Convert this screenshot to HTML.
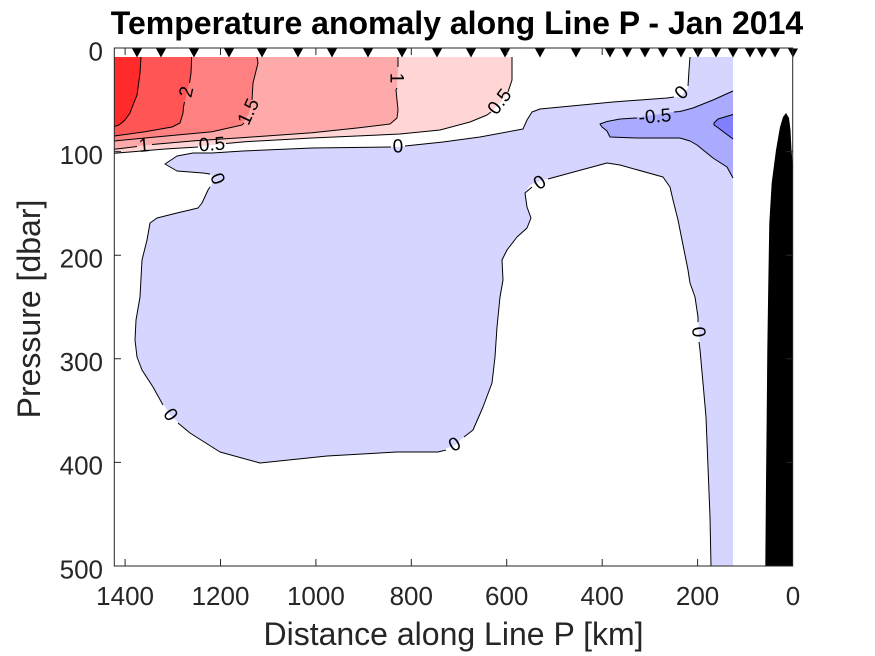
<!DOCTYPE html>
<html>
<head>
<meta charset="utf-8">
<style>
  html, body { margin:0; padding:0; background:#ffffff; }
  svg { display:block; }
  text { font-family: "Liberation Sans", Arial, sans-serif; }
</style>
</head>
<body>
<svg width="875" height="656" viewBox="0 0 875 656" xmlns="http://www.w3.org/2000/svg">
  <rect x="0" y="0" width="875" height="656" fill="#ffffff"/>

  <!-- Lavender (-0.5 .. 0) region -->
  <path fill="#d5d5ff" stroke="none" d="M690,57 L733,57 L733,566 L711,566 L710,517 L708,467 L706,417 L703,383 L700,350 L698,317 L695,297 L690,283 L688,270 L684,250 L678,220 L673,200 L670,187 L663,177 L620,165 L607,163 L570,173 L543,180 L530,185 L525,193 L527,207 L531,218 L527,228 L517,237 L507,250 L502,260 L503,280 L500,297 L497,327 L495,357 L492,383 L483,407 L473,430 L463,438 L455,445 L438,452 L397,452 L327,456 L260,463 L220,452 L190,433 L170,415 L153,387 L142,370 L137,357 L135,340 L136,320 L140,297 L142,260 L147,240 L150,223 L157,218 L177,213 L198,208 L202,203 L208,190 L213,182 L214,176 L203,173 L177,171 L165,164 L177,156 L193,153 L212,153 L243,151 L312,148 L398,147 L443,142 L480,137 L523,129 L527,120 L532,112 L540,109 L613,102 L667,98 L680,97 L688,88 L689,70 Z"/>

  <!-- -1 .. -0.5 region -->
  <path fill="#aaaaff" d="M600,124 L607,121.5 L620,119 L640,117 L673,112 L680,111.5 L693,108 L713,100 L733,91 L733,178 L727,167 L713,158 L697,145 L690,141 L680,138 L637,138 L610,137 L607,131 L602,127 Z"/>
  <!-- < -1 region -->
  <path fill="#8080ff" d="M714,123 L718,119 L723,117.5 L733,114.5 L733,139 L725,133 L717,127 L714,125 Z"/>

  <!-- Red regions -->
  <path fill="#ffd5d5" d="M114.3,57 L512,57 L512,80 L508,92 L500,103 L491,112 L487,115 L470,122 L440,130 L400,134 L312,138 L245,141.7 L212,145 L165,149 L114.3,153.3 Z"/>
  <path fill="#ffaaaa" d="M114.3,57 L398,57 L398,68 L397,86 L396,90 L398,110 L397,118 L390,124 L357,128 L312,132.7 L245,137.5 L195,140.7 L144,145.5 L114.3,149.3 Z"/>
  <path fill="#ff8080" d="M114.3,57 L257,57 L258,63 L253,83 L251.7,97 L249,113 L242,125 L212,131.7 L145,138 L114.3,141 Z"/>
  <path fill="#ff5555" d="M114.3,57 L191.7,57 L191,73 L187,92 L183.5,107 L183,113 L180,123 L172,127 L145,131.7 L114.3,136 Z"/>
  <path fill="#ff2b2b" d="M114.3,57 L141,57 L140,73 L137,95 L133,105 L130,113 L125,120 L119,125 L114.3,126.5 Z"/>

  <!-- Bathymetry -->
  <path fill="#000000" d="M786,113 L789,118 L790.5,130 L791.5,150 L792.7,165 L792.7,566 L765.3,566 L766,483 L766.7,417 L767.3,350 L768.3,283 L769.3,223 L771.7,183 L776,150 L780,127 L783,117 Z"/>

  <!-- Contour lines -->
  <g fill="none" stroke="#000000" stroke-width="1" stroke-linejoin="round">
    <!-- 0 contour -->
    <path d="M711,566 L710,517 L708,467 L706,417 L703,383 L700,350 L699,342"/>
    <path d="M698,322 L698,317 L695,297 L690,283 L688,270 L684,250 L678,220 L673,200 L670,187 L663,177 L620,165 L607,163 L570,173 L548,179"/>
    <path d="M532,187 L525,193 L527,207 L531,218 L527,228 L517,237 L507,250 L502,260 L503,280 L500,297 L497,327 L495,357 L492,383 L483,407 L473,430 L464,437"/>
    <path d="M446,450 L438,452 L397,452 L327,456 L260,463 L220,452 L190,433 L178,423"/>
    <path d="M163,405 L153,387 L142,370 L137,357 L135,340 L136,320 L140,297 L142,260 L147,240 L150,223 L157,218 L177,213 L198,208 L202,203 L208,190 L210,187"/>
    <path d="M210,174 L203,173 L177,171 L165,164 L177,156 L193,153 L212,153 L243,151 L312,148 L391,147"/>
    <path d="M405,146 L443,142 L480,137 L523,129 L527,120 L532,112 L540,109 L613,102 L667,98 L674,97"/>
    <path d="M688,86 L689,70 L690,57"/>
    <!-- -0.5 contour -->
    <path d="M733,91 L713,100 L693,108 L680,111.5 L674,112"/>
    <path d="M637,118 L620,119 L607,121.5 L600,124 L602,127 L607,131 L610,137 L637,138 L680,138 L690,141 L697,145 L713,158 L727,167 L733,178"/>
    <!-- -1 contour -->
    <path d="M733,114.5 L723,117.5 L718,119 L714,123 L714,125 L717,127 L725,133 L733,139"/>
    <!-- 0.5 contour -->
    <path d="M512,57 L512,80 L508,92"/>
    <path d="M491,112 L487,115 L470,122 L440,130 L400,134 L312,138 L245,141.7 L226,143.5"/>
    <path d="M198,147 L165,149 L114.3,153.3"/>
    <!-- 1.0 contour -->
    <path d="M398,57 L398,67"/>
    <path d="M397,88 L396,90 L398,110 L397,118 L390,124 L357,128 L312,132.7 L245,137.5 L195,140.7 L152,144.5"/>
    <path d="M137,146.5 L114.3,149.3"/>
    <!-- 1.5 contour -->
    <path d="M257,57 L258,63 L253,83 L252,100"/>
    <path d="M244,123 L242,125 L212,131.7 L145,138 L114.3,141"/>
    <!-- 2.0 contour -->
    <path d="M191.7,57 L191,73 L189.5,83"/>
    <path d="M184.5,102 L183.5,107 L183,113 L180,123 L172,127 L145,131.7 L114.3,136"/>
    <!-- 2.5 contour -->
    <path d="M141,57 L140,73 L137,95 L133,105 L130,113 L125,120 L119,125 L114.3,126.5"/>
  </g>

  <!-- Contour labels -->
  <g font-size="19" fill="#000000" text-anchor="middle" dominant-baseline="central">
    <text transform="translate(187,92) rotate(-77)">2</text>
    <text transform="translate(249,112) rotate(-65)">1.5</text>
    <text transform="translate(396,78) rotate(90)">1</text>
    <text transform="translate(500,102) rotate(-53)">0.5</text>
    <text transform="translate(144,146) rotate(-5)">1</text>
    <text transform="translate(212,145) rotate(-4)">0.5</text>
    <text transform="translate(398,147) rotate(-2)">0</text>
    <text transform="translate(217,179) rotate(68)">0</text>
    <text transform="translate(540,183) rotate(-34)">0</text>
    <text transform="translate(682,93) rotate(-45)">0</text>
    <text transform="translate(655,117) rotate(-5)">-0.5</text>
    <text transform="translate(698,332) rotate(85)">0</text>
    <text transform="translate(455,445) rotate(-30)">0</text>
    <text transform="translate(170,415) rotate(55)">0</text>
  </g>

  <!-- Station markers -->
  <g fill="#000000">
    <polygon points="132,48.5 142,48.5 137,57.5"/>
    <polygon points="156,48.5 166,48.5 161,57.5"/>
    <polygon points="189,48.5 199,48.5 194,57.5"/>
    <polygon points="224,48.5 234,48.5 229,57.5"/>
    <polygon points="257,48.5 267,48.5 262,57.5"/>
    <polygon points="293,48.5 303,48.5 298,57.5"/>
    <polygon points="327,48.5 337,48.5 332,57.5"/>
    <polygon points="363,48.5 373,48.5 368,57.5"/>
    <polygon points="397,48.5 407,48.5 402,57.5"/>
    <polygon points="432,48.5 442,48.5 437,57.5"/>
    <polygon points="466,48.5 476,48.5 471,57.5"/>
    <polygon points="500,48.5 510,48.5 505,57.5"/>
    <polygon points="535,48.5 545,48.5 540,57.5"/>
    <polygon points="571,48.5 581,48.5 576,57.5"/>
    <polygon points="605,48.5 615,48.5 610,57.5"/>
    <polygon points="622,48.5 632,48.5 627,57.5"/>
    <polygon points="640,48.5 650,48.5 645,57.5"/>
    <polygon points="658,48.5 668,48.5 663,57.5"/>
    <polygon points="676,48.5 686,48.5 681,57.5"/>
    <polygon points="693,48.5 703,48.5 698,57.5"/>
    <polygon points="711,48.5 721,48.5 716,57.5"/>
    <polygon points="728,48.5 738,48.5 733,57.5"/>
    <polygon points="745,48.5 755,48.5 750,57.5"/>
    <polygon points="757,48.5 767,48.5 762,57.5"/>
    <polygon points="770,48.5 780,48.5 775,57.5"/>
    <polygon points="788,48.5 798,48.5 793,57.5"/>
  </g>

  <!-- Axes box and ticks -->
  <g stroke="#262626" stroke-width="1" fill="none">
    <rect x="114.3" y="48" width="678.4" height="518"/>
    <!-- x ticks bottom & top -->
    <path d="M125.1,566 V559 M220.5,566 V559 M315.9,566 V559 M411.3,566 V559 M506.7,566 V559 M602.2,566 V559 M697.6,566 V559"/>
    <path d="M125.1,48 V55 M220.5,48 V55 M315.9,48 V55 M411.3,48 V55 M506.7,48 V55 M602.2,48 V55 M697.6,48 V55"/>
    <!-- y ticks left & right -->
    <path d="M114.3,151.6 H121 M114.3,255.2 H121 M114.3,358.8 H121 M114.3,462.4 H121"/>
    <path d="M792.7,151.6 H786 M792.7,255.2 H786 M792.7,358.8 H786 M792.7,462.4 H786"/>
  </g>

  <!-- X tick labels -->
  <g font-size="26" fill="#262626" text-anchor="middle">
    <text x="125.1" y="605">1400</text>
    <text x="220.5" y="605">1200</text>
    <text x="315.9" y="605">1000</text>
    <text x="411.3" y="605">800</text>
    <text x="506.7" y="605">600</text>
    <text x="602.2" y="605">400</text>
    <text x="697.6" y="605">200</text>
    <text x="793" y="605">0</text>
  </g>

  <!-- Y tick labels -->
  <g font-size="26" fill="#262626" text-anchor="end">
    <text x="103" y="60.3">0</text>
    <text x="103" y="163.9">100</text>
    <text x="103" y="267.5">200</text>
    <text x="103" y="371.1">300</text>
    <text x="103" y="474.7">400</text>
    <text x="103" y="578.3">500</text>
  </g>

  <!-- Axis labels -->
  <text x="453.5" y="645" font-size="32" fill="#262626" text-anchor="middle">Distance along Line P [km]</text>
  <text transform="translate(40,309) rotate(-90)" font-size="32" fill="#262626" text-anchor="middle">Pressure [dbar]</text>

  <!-- Title -->
  <text x="457" y="34" font-size="32" font-weight="bold" fill="#000000" text-anchor="middle">Temperature anomaly along Line P - Jan 2014</text>
</svg>
</body>
</html>
